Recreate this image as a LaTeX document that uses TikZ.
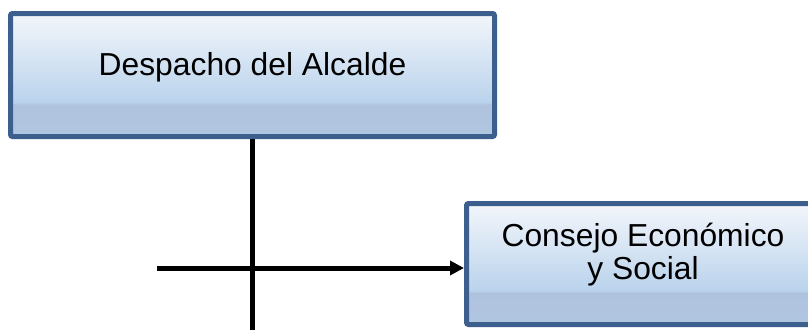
\documentclass[tikz,border=0pt]{standalone}
\usepackage{fontspec}
\setmainfont{Liberation Sans}
\usepackage{tikz}
\usetikzlibrary{positioning,calc,arrows.meta}
\usepackage{xcolor}
\definecolor{frameblue}{RGB}{60,95,142}
\definecolor{topblue}{RGB}{243,246,251}
\definecolor{midblue}{RGB}{186,211,236}
\definecolor{bandblue}{RGB}{175,195,222}
\pgfdeclareverticalshading{officebox}{100bp}{%
  color(0bp)=(bandblue); color(25bp)=(bandblue!85!midblue);
  color(38bp)=(bandblue); color(39bp)=(midblue);
  color(75bp)=(topblue); color(100bp)=(topblue)}

\begin{document}
\begin{tikzpicture}[
  x=1pt, y=-1pt,
  unit/.style={rectangle, draw=frameblue, line width=5pt, rounded corners=2pt,
               shading=officebox, font=\fontsize{31.8}{33}\selectfont,
               inner sep=0pt, align=center},
  conn/.style={line width=5pt, black},
]
  \clip (0,0) rectangle (808,330);
  \node[unit, minimum width=484pt, minimum height=123pt,
        text height=23pt, text depth=23pt] (alcalde) at (252.5,75)
    {Despacho del Alcalde};
  \node[unit, minimum width=353pt, minimum height=121pt,
        text depth=26pt] (consejo) at (643,264)
    {Consejo Económico\\y Social};
  \coordinate (bottom) at (252,330);
  \coordinate (feed) at (157,268);
  \draw[conn] (alcalde.south -| bottom) -- (bottom);
  \draw[conn, -{Triangle[length=14pt,width=14pt]}] (feed) -- (consejo.west |- feed);
\end{tikzpicture}
\end{document}
